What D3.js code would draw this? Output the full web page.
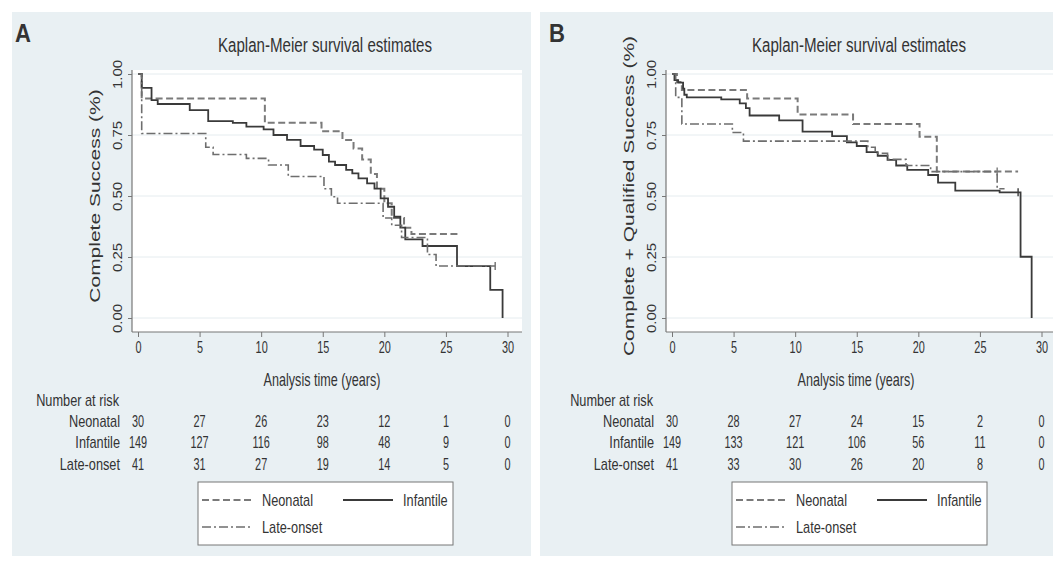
<!DOCTYPE html>
<html>
<head>
<meta charset="utf-8">
<script src="https://cdn.jsdelivr.net/npm/d3@7"></script>
<style>
  html, body { margin: 0; padding: 0; background: #ffffff; }
  svg { display: block; }
  text { font-family: "Liberation Sans", Arial, sans-serif; fill: #333333; }
</style>
</head>
<body>
<svg id="chart" width="1053" height="564"></svg>
<script>
// Axis ticks and risk-table columns (years)
const years = [0, 5, 10, 15, 20, 25, 30];
const survTicks = [0, 0.25, 0.5, 0.75, 1];
const groups = ["Neonatal", "Infantile", "Late-onset"];

// Panel A: complete success — Kaplan-Meier step estimates
const aNeonatalTime = [0, 0.3, 10.3, 14.9, 16.6, 17.5, 18.2, 18.9, 19.4, 20.0, 20.6, 21.6, 22.2, 26.2];
const aNeonatalSurv = [1, 0.9, 0.8, 0.765, 0.73, 0.695, 0.65, 0.59, 0.53, 0.47, 0.41, 0.37, 0.344, 0.344];
const aInfantileTime = [0, 0.3, 1.1, 1.6, 4.2, 5.7, 7.7, 8.8, 10.2, 11.0, 12.1, 13.2, 14.3, 15.0, 15.5, 16.0, 16.9, 17.4, 17.9, 18.6, 19.2, 19.7, 20.3, 20.8, 21.3, 21.7, 23.1, 25.9, 28.6, 29.6];
const aInfantileSurv = [1, 0.943, 0.893, 0.877, 0.852, 0.807, 0.8, 0.784, 0.773, 0.75, 0.73, 0.705, 0.69, 0.668, 0.641, 0.627, 0.607, 0.593, 0.572, 0.552, 0.53, 0.49, 0.456, 0.415, 0.37, 0.322, 0.295, 0.213, 0.115, 0];
const aLateTime = [0, 0.3, 5.5, 6.1, 8.8, 10.6, 12.2, 15.1, 15.7, 16.2, 19.9, 20.6, 21.4, 23.5, 24.2, 29.0];
const aLateSurv = [1, 0.756, 0.7, 0.67, 0.654, 0.627, 0.58, 0.53, 0.497, 0.47, 0.41, 0.38, 0.33, 0.26, 0.213, 0.213];

// Panel B: complete + qualified success
const bNeonatalTime = [0, 0.4, 0.8, 6.1, 10.2, 14.7, 20.1, 21.5, 28.1];
const bNeonatalSurv = [1, 0.967, 0.934, 0.9, 0.834, 0.795, 0.743, 0.6, 0.6];
const bInfantileTime = [0, 0.2, 0.5, 0.9, 1.0, 1.2, 4.0, 5.5, 6.0, 6.3, 8.7, 10.6, 13.0, 14.2, 15.0, 15.8, 16.7, 17.5, 18.2, 19.1, 20.8, 21.6, 23.0, 26.6, 28.3, 29.2];
const bInfantileSurv = [1, 0.975, 0.965, 0.94, 0.915, 0.904, 0.896, 0.88, 0.86, 0.83, 0.81, 0.764, 0.745, 0.72, 0.705, 0.68, 0.665, 0.648, 0.625, 0.607, 0.586, 0.555, 0.522, 0.515, 0.251, 0];
const bLateTime = [0, 0.3, 0.8, 4.9, 5.8, 15.9, 16.5, 17.5, 19.0, 21.0, 26.4, 27.0];
const bLateSurv = [1, 0.904, 0.795, 0.76, 0.725, 0.7, 0.675, 0.65, 0.625, 0.6, 0.53, 0.53];

// Censoring marks
const bNeonatalCensor = [26.4];
const bInfantileCensor = [28.1];
const aLateCensor = [29.0];

// Number at risk
const aRiskNeonatal = [30, 27, 26, 23, 12, 1, 0];
const aRiskInfantile = [149, 127, 116, 98, 48, 9, 0];
const aRiskLate = [41, 31, 27, 19, 14, 5, 0];
const bRiskNeonatal = [30, 28, 27, 24, 15, 2, 0];
const bRiskInfantile = [149, 133, 121, 106, 56, 11, 0];
const bRiskLate = [41, 33, 30, 26, 20, 8, 0];

// Line styles per group
const styles = {
  "Neonatal":   { color: "#7a7a7a", width: 2.0, dash: "7,3.5" },
  "Infantile":  { color: "#3a3a3a", width: 1.8, dash: null },
  "Late-onset": { color: "#6e6e6e", width: 1.6, dash: "9,3,2,3" }
};

const zip = (ts, ss) => ts.map((t, i) => ({ t: t, s: ss[i] }));

const panels = [
  {
    off: 0, letter: "A",
    yTitle: "Complete Success (%)",
    series: [
      { name: "Neonatal", pts: zip(aNeonatalTime, aNeonatalSurv), censor: [] },
      { name: "Infantile", pts: zip(aInfantileTime, aInfantileSurv), censor: [] },
      { name: "Late-onset", pts: zip(aLateTime, aLateSurv), censor: aLateCensor }
    ],
    risk: [aRiskNeonatal, aRiskInfantile, aRiskLate]
  },
  {
    off: 534, letter: "B",
    yTitle: "Complete + Qualified Success (%)",
    series: [
      { name: "Neonatal", pts: zip(bNeonatalTime, bNeonatalSurv), censor: bNeonatalCensor },
      { name: "Infantile", pts: zip(bInfantileTime, bInfantileSurv), censor: bInfantileCensor },
      { name: "Late-onset", pts: zip(bLateTime, bLateSurv), censor: [] }
    ],
    risk: [bRiskNeonatal, bRiskInfantile, bRiskLate]
  }
];

const svg = d3.select("#chart");
svg.append("rect").attr("width", 1053).attr("height", 564).attr("fill", "#ffffff");

// Horizontally condensed text helper
function label(g, str, x, y, size, sx, anchor, extra) {
  return g.append("text")
    .attr("transform", `translate(${x},${y}) scale(${sx},1)` + (extra || ""))
    .attr("text-anchor", anchor)
    .style("font-size", size + "px")
    .text(str);
}

const bgBoxes = [{ x: 12, w: 519 }, { x: 540, w: 513 }];

panels.forEach((p, pi) => {
  const o = p.off;
  const g = svg.append("g");

  g.append("rect")
    .attr("x", bgBoxes[pi].x).attr("y", 12)
    .attr("width", bgBoxes[pi].w).attr("height", 544)
    .attr("fill", "#e9f0f3");

  const x = d3.scaleLinear().domain([0, 30]).range([138 + o, 507.5 + o]);
  const y = d3.scaleLinear().domain([0, 1]).range([318, 74]);

  const plotL = 132 + o, plotR = 522 + o, plotT = 70, plotB = 332;

  // plot region
  g.append("rect")
    .attr("x", plotL).attr("y", plotT)
    .attr("width", plotR - plotL).attr("height", plotB - plotT)
    .attr("fill", "#ffffff");

  // horizontal grid
  g.selectAll(".grid").data(survTicks).enter().append("line")
    .attr("x1", plotL).attr("x2", plotR)
    .attr("y1", d => y(d)).attr("y2", d => y(d))
    .attr("stroke", "#e5ecef").attr("stroke-width", 1);

  // survival curves
  const line = d3.line().x(d => x(d.t)).y(d => y(d.s)).curve(d3.curveStepAfter);
  p.series.forEach(se => {
    const st = styles[se.name];
    g.append("path")
      .datum(se.pts)
      .attr("d", line)
      .attr("fill", "none")
      .attr("stroke", st.color)
      .attr("stroke-width", st.width)
      .attr("stroke-dasharray", st.dash);
    // censoring ticks at the survival level in effect at that time
    se.censor.forEach(ct => {
      const prev = se.pts.filter(d => d.t <= ct);
      const sv = prev[prev.length - 1].s;
      g.append("line")
        .attr("x1", x(ct)).attr("x2", x(ct))
        .attr("y1", y(sv) - 4).attr("y2", y(sv) + 4)
        .attr("stroke", st.color).attr("stroke-width", 1.4);
    });
  });

  // y axis
  const yAxis = g.append("g")
    .attr("transform", `translate(${plotL},0)`)
    .call(d3.axisLeft(y).tickValues(survTicks).tickSize(4).tickFormat(d3.format(".2f")));
  yAxis.select(".domain").remove();
  yAxis.selectAll(".tick line").attr("stroke", "#777");
  yAxis.selectAll(".tick text")
    .attr("x", null).attr("dy", null)
    .attr("text-anchor", "middle")
    .attr("transform", "translate(-10,0) scale(0.8,1) rotate(-90)")
    .style("font-size", "15px")
    .style("font-family", "Liberation Sans, Arial, sans-serif")
    .attr("fill", "#333");

  // x axis
  const xAxis = g.append("g")
    .attr("transform", `translate(0,${plotB})`)
    .call(d3.axisBottom(x).tickValues(years).tickSize(5).tickFormat(d3.format("d")));
  xAxis.select(".domain").remove();
  xAxis.selectAll(".tick line").attr("stroke", "#777");
  xAxis.selectAll(".tick text")
    .attr("y", null).attr("dy", null)
    .attr("transform", "translate(0,21) scale(0.68,1)")
    .style("font-size", "16px")
    .style("font-family", "Liberation Sans, Arial, sans-serif")
    .attr("fill", "#333");

  // axis lines
  g.append("line").attr("x1", plotL).attr("x2", plotL).attr("y1", plotT).attr("y2", plotB)
    .attr("stroke", "#777").attr("stroke-width", 1.2);
  g.append("line").attr("x1", plotL).attr("x2", plotR).attr("y1", plotB).attr("y2", plotB)
    .attr("stroke", "#777").attr("stroke-width", 1.2);

  // titles
  g.append("text")
    .attr("transform", `translate(${15 + o},42) scale(0.85,1)`)
    .style("font-size", "26px").style("font-weight", "bold")
    .attr("fill", "#111").text(p.letter);
  label(g, "Kaplan-Meier survival estimates", 325 + o, 52, 21, 0.72, "middle");
  label(g, p.yTitle, 100 + o, 196, 21, 0.7, "middle", " rotate(-90)");
  label(g, "Analysis time (years)", 322 + o, 386, 18, 0.7, "middle");

  // number at risk table
  label(g, "Number at risk", 119 + o, 406, 17, 0.75, "end");
  const rowY = [427, 448, 470];
  groups.forEach((name, gi) => {
    label(g, name, 120 + o, rowY[gi], 17, 0.75, "end");
    p.risk[gi].forEach((n, k) => {
      label(g, String(n), x(years[k]), rowY[gi], 16, 0.68, "middle");
    });
  });

  // legend
  const lx = 198 + o, ly = 482;
  g.append("rect").attr("x", lx).attr("y", ly).attr("width", 255).attr("height", 63)
    .attr("fill", "#ffffff").attr("stroke", "#777").attr("stroke-width", 1);
  const legendItems = [
    { name: "Neonatal", x: lx + 4, y: 500 },
    { name: "Infantile", x: lx + 145, y: 500 },
    { name: "Late-onset", x: lx + 4, y: 527 }
  ];
  legendItems.forEach(it => {
    const st = styles[it.name];
    g.append("line")
      .attr("x1", it.x).attr("x2", it.x + 50)
      .attr("y1", it.y).attr("y2", it.y)
      .attr("stroke", st.color).attr("stroke-width", st.width)
      .attr("stroke-dasharray", st.dash);
    label(g, it.name, it.x + 60, it.y + 6, 17, 0.75, "start");
  });
});
</script>
</body>
</html>
